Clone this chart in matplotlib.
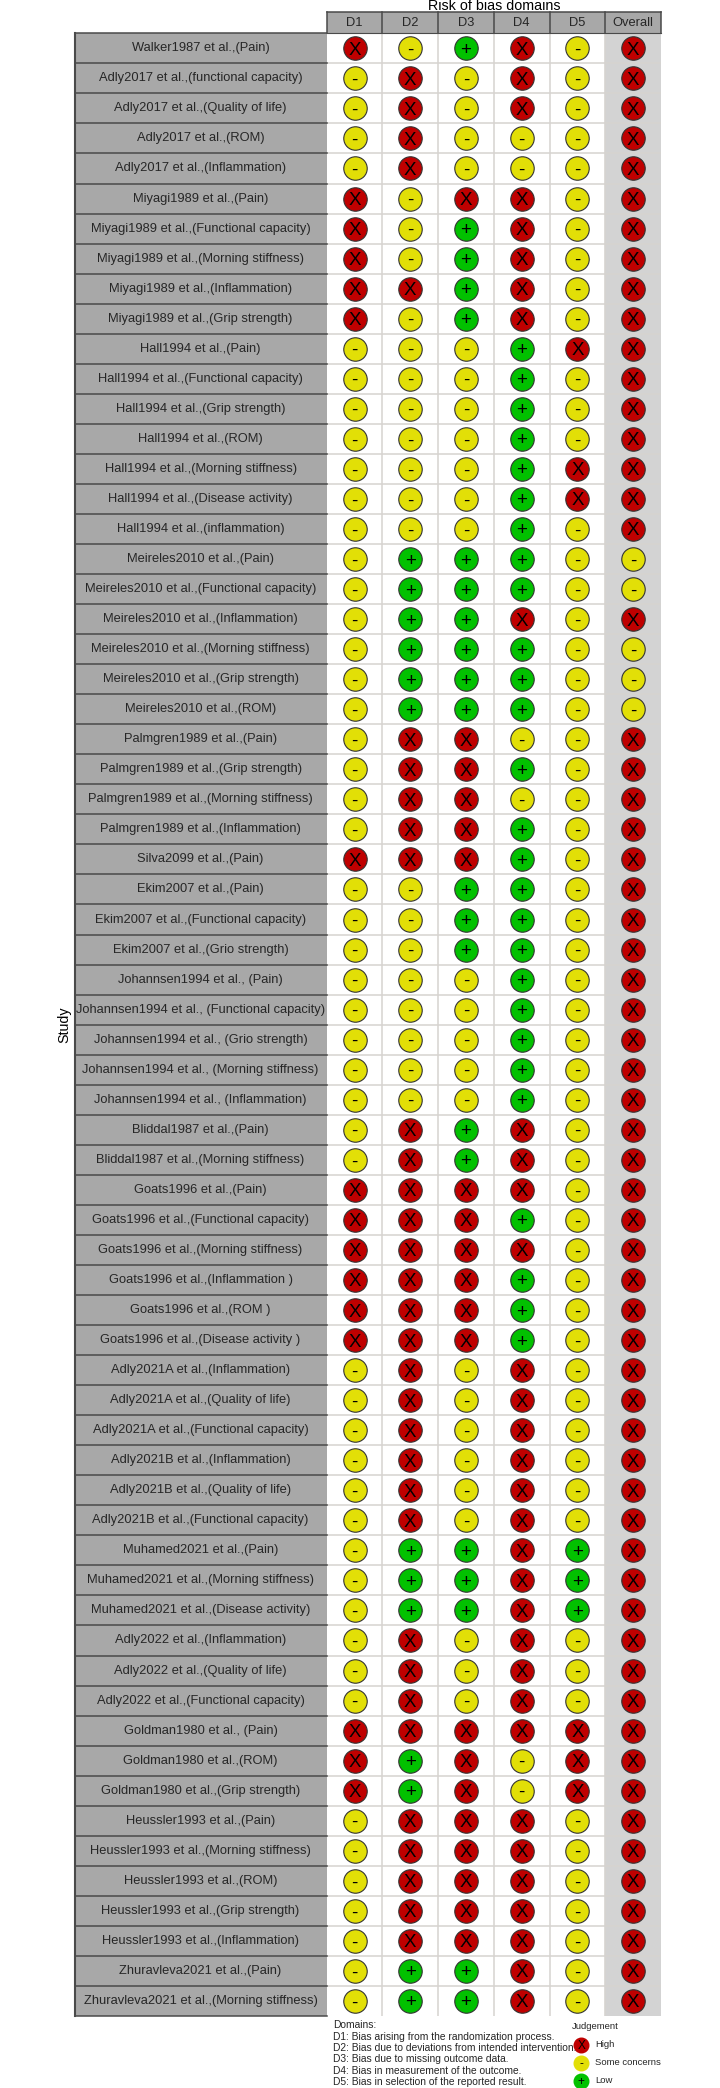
import matplotlib
matplotlib.use("Agg")
import matplotlib.pyplot as plt
from matplotlib.lines import Line2D
from matplotlib.patches import Rectangle

plt.rcParams['font.family'] = ['Liberation Sans', 'DejaVu Sans']

studies = [
    "Walker1987 et al.,(Pain)",
    "Adly2017 et al.,(functional capacity)", "Adly2017 et al.,(Quality of life)",
    "Adly2017 et al.,(ROM)", "Adly2017 et al.,(Inflammation)",
    "Miyagi1989 et al.,(Pain)", "Miyagi1989 et al.,(Functional capacity)",
    "Miyagi1989 et al.,(Morning stiffness)", "Miyagi1989 et al.,(Inflammation)",
    "Miyagi1989 et al.,(Grip strength)",
    "Hall1994 et al.,(Pain)", "Hall1994 et al.,(Functional capacity)",
    "Hall1994 et al.,(Grip strength)", "Hall1994 et al.,(ROM)",
    "Hall1994 et al.,(Morning stiffness)", "Hall1994 et al.,(Disease activity)",
    "Hall1994 et al.,(inflammation)",
    "Meireles2010 et al.,(Pain)", "Meireles2010 et al.,(Functional capacity)",
    "Meireles2010 et al.,(Inflammation)", "Meireles2010 et al.,(Morning stiffness)",
    "Meireles2010 et al.,(Grip strength)", "Meireles2010 et al.,(ROM)",
    "Palmgren1989 et al.,(Pain)", "Palmgren1989 et al.,(Grip strength)",
    "Palmgren1989 et al.,(Morning stiffness)", "Palmgren1989 et al.,(Inflammation)",
    "Silva2099 et al.,(Pain)",
    "Ekim2007 et al.,(Pain)", "Ekim2007 et al.,(Functional capacity)",
    "Ekim2007 et al.,(Grio strength)",
    "Johannsen1994 et al., (Pain)", "Johannsen1994 et al., (Functional capacity)",
    "Johannsen1994 et al., (Grio strength)", "Johannsen1994 et al., (Morning stiffness)",
    "Johannsen1994 et al., (Inflammation)",
    "Bliddal1987 et al.,(Pain)", "Bliddal1987 et al.,(Morning stiffness)",
    "Goats1996 et al.,(Pain)", "Goats1996 et al.,(Functional capacity)",
    "Goats1996 et al.,(Morning stiffness)", "Goats1996 et al.,(Inflammation )",
    "Goats1996 et al.,(ROM )", "Goats1996 et al.,(Disease activity )",
    "Adly2021A et al.,(Inflammation)", "Adly2021A et al.,(Quality of life)",
    "Adly2021A et al.,(Functional capacity)",
    "Adly2021B et al.,(Inflammation)", "Adly2021B et al.,(Quality of life)",
    "Adly2021B et al.,(Functional capacity)",
    "Muhamed2021 et al.,(Pain)", "Muhamed2021 et al.,(Morning stiffness)",
    "Muhamed2021 et al.,(Disease activity)",
    "Adly2022 et al.,(Inflammation)", "Adly2022 et al.,(Quality of life)",
    "Adly2022 et al.,(Functional capacity)",
    "Goldman1980 et al., (Pain)", "Goldman1980 et al.,(ROM)",
    "Goldman1980 et al.,(Grip strength)",
    "Heussler1993 et al.,(Pain)", "Heussler1993 et al.,(Morning stiffness)",
    "Heussler1993 et al.,(ROM)", "Heussler1993 et al.,(Grip strength)",
    "Heussler1993 et al.,(Inflammation)",
    "Zhuravleva2021 et al.,(Pain)", "Zhuravleva2021 et al.,(Morning stiffness)",
]

# H = high, S = some concerns, L = low, grouped by study
d1 = list("H" "SSSS" "HHHHH" "SSSSSSS" "SSSSSS" "SSSS" "H" "SSS" "SSSSS" "SS"
          "HHHHHH" "SSS" "SSS" "SSS" "SSS" "HHH" "SSSSS" "SS")
d2 = list("S" "HHHH" "SSSHS" "SSSSSSS" "LLLLLL" "HHHH" "H" "SSS" "SSSSS" "HH"
          "HHHHHH" "HHH" "HHH" "LLL" "HHH" "HLL" "HHHHH" "LL")
d3 = list("L" "SSSS" "HLLLL" "SSSSSSS" "LLLLLL" "HHHH" "H" "LLL" "SSSSS" "LL"
          "HHHHHH" "SSS" "SSS" "LLL" "SSS" "HHH" "HHHHH" "LL")
d4 = list("H" "HHSS" "HHHHH" "LLLLLLL" "LLHLLL" "SLSL" "L" "LLL" "LLLLL" "HH"
          "HLHLLL" "HHH" "HHH" "HHH" "HHH" "HSS" "HHHHH" "HH")
d5 = list("S" "SSSS" "SSSSS" "HSSSHHS" "SSSSSS" "SSSS" "S" "SSS" "SSSSS" "SS"
          "SSSSSS" "SSS" "SSS" "LLL" "SSS" "HHH" "SSSSS" "SS")
overall = list("H" "HHHH" "HHHHH" "HHHHHHH" "SSHSSS" "HHHH" "H" "HHH" "HHHHH" "HH"
               "HHHHHH" "HHH" "HHH" "HHH" "HHH" "HHH" "HHHHH" "HH")

columns = [d1, d2, d3, d4, d5, overall]
col_names = ["D1", "D2", "D3", "D4", "D5", "Overall"]

domain_notes = [
    "Domains:",
    "D1: Bias arising from the randomization process.",
    "D2: Bias due to deviations from intended intervention.",
    "D3: Bias due to missing outcome data.",
    "D4: Bias in measurement of the outcome.",
    "D5: Bias in selection of the reported result.",
]
legend_names = ["High", "Some concerns", "Low"]

colours = {"H": "#BF0000", "S": "#E2DF07", "L": "#02C100"}
symbols = {"H": "X", "S": "-", "L": "+"}
legend_keys = ["H", "S", "L"]

W, H = 720, 2088
TEXT = "#262626"
STRIP = "#a8a8a8"
DARK = "#4a4a4a"


def axes_px(x0, y0, x1, y1):
    return fig.add_axes([x0 / W, 1 - y1 / H, (x1 - x0) / W, (y1 - y0) / H])


fig = plt.figure(figsize=(W / 100, H / 100), dpi=100)

n = len(studies)
left, mid, right = 74.5, 326.7, 661
top, head, bottom = 12, 33.3, 2016

# main panel
ax = axes_px(mid, head, right, bottom)
ax.set_xlim(0.5, 6.5)
ax.set_ylim(n + 0.5, 0.5)
ax.axis("off")
ax.add_patch(Rectangle((5.5, 0.5), 1, n, color="#d3d3d3", zorder=0))
for i in range(1, 6):
    ax.axvline(i + 0.5, color="#d6d3d0", lw=1.1, zorder=1)
for i in range(1, n):
    ax.axhline(i + 0.5, color="#d6d3d0", lw=1.1, zorder=1)

for c, col in enumerate(columns):
    for r, val in enumerate(col):
        ax.scatter(c + 1, r + 1, s=285, color=colours[val], edgecolor="#333333",
                   linewidth=0.8, zorder=3, clip_on=False)
        ax.text(c + 1, r + 1, symbols[val], fontsize=13.5, color="black", ha="center",
                va="center_baseline", zorder=4)

# study strip on the left
ax_s = axes_px(left, head, mid, bottom)
ax_s.set_xlim(0, 1)
ax_s.set_ylim(n + 0.5, 0.5)
ax_s.axis("off")
ax_s.add_patch(Rectangle((0, 0.5), 1, n, color=STRIP, zorder=0))
ax_s.axvline(0, color=DARK, lw=1.5, zorder=2, clip_on=False)
for i in range(0, n + 1):
    ax_s.axhline(i + 0.5, color=DARK, lw=1.1, zorder=2, clip_on=False)
for r, name in enumerate(studies):
    ax_s.text(0.5, r + 1, name, fontsize=9.3, color=TEXT, ha="center", va="center")

# domain header on top
ax_h = axes_px(mid, top, right, head)
ax_h.set_xlim(0.5, 6.5)
ax_h.set_ylim(0, 1)
ax_h.axis("off")
ax_h.add_patch(Rectangle((0.5, 0), 6, 1, color=STRIP, zorder=0))
for i in range(0, 7):
    ax_h.axvline(i + 0.5, color=DARK, lw=1.1, zorder=2, clip_on=False)
ax_h.axhline(1, color=DARK, lw=1.1, zorder=2, clip_on=False)
ax_h.axhline(0, color=DARK, lw=0.8, zorder=2, clip_on=False)
for i, name in enumerate(col_names):
    ax_h.text(i + 1, 0.5, name, fontsize=9.3, color=TEXT, ha="center", va="center")

fig.text(494 / W, 1 - 6 / H, "Risk of bias domains", fontsize=10.3, color="black",
         ha="center", va="center")
fig.text(64 / W, 1 - 1025 / H, "Study", fontsize=10.3, color="black", rotation=90,
         ha="center", va="center")

# domain notes
note_y = [2025.3, 2036.7, 2048, 2059.3, 2070.5, 2082]
for txt, y in zip(domain_notes, note_y):
    fig.text(332.7 / W, 1 - y / H, txt, fontsize=7.4, color=TEXT, ha="left", va="center")

# judgement legend
fig.text(572 / W, 1 - 2026.7 / H, "Judgement", fontsize=6.8, color=TEXT, ha="left", va="center")
key_y = [2044.7, 2062.7, 2080.7]
for key, name, y in zip(legend_keys, legend_names, key_y):
    fig.add_artist(Line2D([581.3 / W], [1 - y / H], marker="o", markersize=10.5,
                          markerfacecolor=colours[key], markeredgecolor=colours[key],
                          linestyle="none", transform=fig.transFigure))
    fig.text(581.3 / W, 1 - y / H, symbols[key], fontsize=8.5, color="black", ha="center",
             va="center_baseline")
    fig.text(595.3 / W, 1 - y / H, name, fontsize=6.8, color=TEXT, ha="left", va="center")

fig.savefig("out.png", dpi=100)
